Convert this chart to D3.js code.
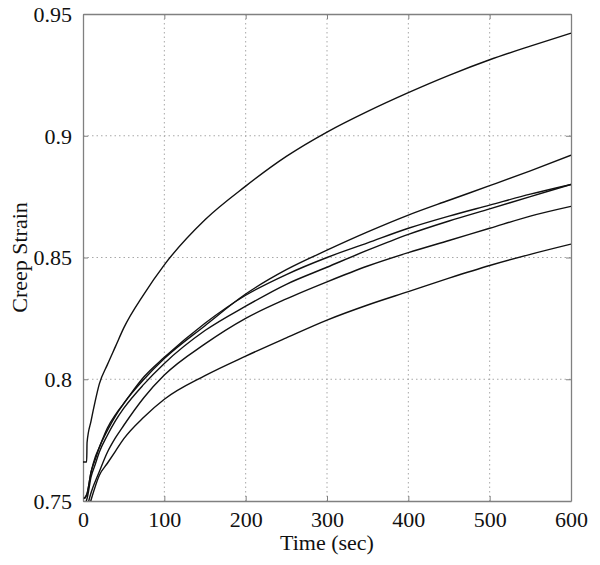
<!DOCTYPE html>
<html>
<head>
<meta charset="utf-8">
<script src="https://cdn.jsdelivr.net/npm/d3@7"></script>
<style>
  body { margin: 0; background: #fff; }
  text { font-family: "Liberation Serif", "Times New Roman", serif; fill: #111; }
</style>
</head>
<body>
<div id="chart"></div>
<script>
"use strict";

// Data: time (sec) and creep strain for each test
var xTicks = [0, 100, 200, 300, 400, 500, 600];
var yTicks = [0.75, 0.8, 0.85, 0.9, 0.95];

var timeTop = [0, 4.5, 5, 10, 15, 20, 30, 40, 50, 75, 100, 150, 200, 250, 300, 350, 400, 450, 500, 550, 600];
var strainTop = [0.766, 0.766, 0.774, 0.783, 0.791, 0.798, 0.806, 0.8135, 0.821, 0.835, 0.847, 0.8655, 0.8793, 0.8915, 0.9015, 0.910, 0.9177, 0.9248, 0.9312, 0.9368, 0.9421];

var timeA = [1, 5, 10, 15, 20, 30, 40, 50, 75, 100, 150, 200, 250, 300, 350, 400, 450, 500, 550, 600];
var strainA = [0.751, 0.753, 0.762, 0.767, 0.772, 0.779, 0.785, 0.790, 0.800, 0.8085, 0.822, 0.835, 0.845, 0.853, 0.8605, 0.8674, 0.8735, 0.8795, 0.8856, 0.892];

var timeB = [2, 5, 10, 15, 20, 30, 40, 50, 75, 100, 150, 200, 250, 300, 350, 400, 450, 500, 550, 600];
var strainB = [0.751, 0.753, 0.762, 0.768, 0.772, 0.780, 0.7855, 0.790, 0.801, 0.809, 0.823, 0.8345, 0.843, 0.850, 0.856, 0.862, 0.867, 0.8715, 0.876, 0.880];

var timeC = [4, 5, 10, 15, 20, 30, 40, 50, 75, 100, 150, 200, 250, 300, 350, 400, 450, 500, 550, 600];
var strainC = [0.750, 0.751, 0.760, 0.765, 0.770, 0.777, 0.783, 0.788, 0.798, 0.8065, 0.820, 0.830, 0.839, 0.846, 0.853, 0.8595, 0.865, 0.870, 0.875, 0.880];

var timeD = [7, 10, 20, 30, 40, 50, 75, 100, 150, 200, 250, 300, 350, 400, 450, 500, 550, 600];
var strainD = [0.750, 0.7535, 0.762, 0.770, 0.776, 0.781, 0.7925, 0.8017, 0.8145, 0.825, 0.833, 0.840, 0.8465, 0.852, 0.857, 0.862, 0.867, 0.871];

var timeE = [9.5, 20, 30, 40, 50, 75, 100, 150, 200, 250, 300, 350, 400, 450, 500, 550, 600];
var strainE = [0.750, 0.7605, 0.7655, 0.7705, 0.7755, 0.7845, 0.7918, 0.8015, 0.8095, 0.817, 0.8243, 0.8305, 0.836, 0.8415, 0.8467, 0.8513, 0.8555];

var series = [
  [timeTop, strainTop],
  [timeA, strainA],
  [timeB, strainB],
  [timeC, strainC],
  [timeD, strainD],
  [timeE, strainE]
];

var margin = { top: 14, right: 29, bottom: 64, left: 83 },
    width = 600 - margin.left - margin.right,
    height = 565 - margin.top - margin.bottom;

var svg = d3.select("#chart")
            .append("svg")
            .attr("width", 600)
            .attr("height", 565)
            .append("g")
            .attr("transform", "translate(" + margin.left + "," + margin.top + ")");

var xscale = d3.scaleLinear().domain([0, 600]).range([0, width]);
var yscale = d3.scaleLinear().domain([0.75, 0.95]).range([height, 0]);

svg.append("clipPath")
   .attr("id", "clip")
   .append("rect")
   .attr("width", width)
   .attr("height", height);

// dotted grid
svg.selectAll(".vgrid")
   .data(xTicks.slice(1, -1))
   .enter()
   .append("line")
   .attr("x1", function (d) { return xscale(d); })
   .attr("x2", function (d) { return xscale(d); })
   .attr("y1", 0)
   .attr("y2", height)
   .attr("stroke", "#a8a8a8")
   .attr("stroke-width", 1)
   .attr("stroke-dasharray", "1.5,3");

svg.selectAll(".hgrid")
   .data(yTicks.slice(1, -1))
   .enter()
   .append("line")
   .attr("y1", function (d) { return yscale(d); })
   .attr("y2", function (d) { return yscale(d); })
   .attr("x1", 0)
   .attr("x2", width)
   .attr("stroke", "#a8a8a8")
   .attr("stroke-width", 1)
   .attr("stroke-dasharray", "1.5,3");

// axes, ticks inward on all four sides
var axisColor = "#808080";
var fmt = function (d) { return d3.format("")(d); };

var axisBottomG = svg.append("g")
   .attr("transform", "translate(0," + height + ")")
   .call(d3.axisBottom(xscale).tickValues(xTicks).tickSize(-5).tickPadding(10).tickSizeOuter(0));
var axisTopG = svg.append("g")
   .call(d3.axisTop(xscale).tickValues(xTicks).tickSize(-5).tickFormat("").tickSizeOuter(0));
var axisLeftG = svg.append("g")
   .call(d3.axisLeft(yscale).tickValues(yTicks).tickSize(-5).tickPadding(11).tickFormat(fmt).tickSizeOuter(0));
var axisRightG = svg.append("g")
   .attr("transform", "translate(" + width + ",0)")
   .call(d3.axisRight(yscale).tickValues(yTicks).tickSize(-5).tickFormat("").tickSizeOuter(0));

[axisBottomG, axisTopG, axisLeftG, axisRightG].forEach(function (g) {
  g.selectAll("path").attr("stroke", axisColor).attr("stroke-width", 1.3);
  g.selectAll("line").attr("stroke", axisColor).attr("stroke-width", 1);
  g.selectAll("text")
   .attr("font-family", "Liberation Serif, Times New Roman, serif")
   .attr("font-size", 22)
   .attr("fill", "#111");
});
axisLeftG.selectAll("text").attr("dy", "0.34em");
axisBottomG.selectAll("text").attr("dy", "0.72em");

// curves
var line = d3.line()
             .x(function (d) { return xscale(d[0]); })
             .y(function (d) { return yscale(d[1]); })
             .curve(d3.curveMonotoneX);

svg.append("g")
   .attr("clip-path", "url(#clip)")
   .selectAll("path")
   .data(series)
   .enter()
   .append("path")
   .attr("d", function (s) {
     return line(s[0].map(function (t, i) { return [t, s[1][i]]; }));
   })
   .attr("fill", "none")
   .attr("stroke", "#111")
   .attr("stroke-width", 1.4);

// labels
svg.append("text")
   .attr("text-anchor", "middle")
   .attr("x", width / 2)
   .attr("y", height + 49)
   .attr("font-size", 22)
   .text("Time (sec)");

svg.append("text")
   .attr("text-anchor", "middle")
   .attr("transform", "translate(" + (27 - margin.left) + "," + (height / 2) + ") rotate(-90)")
   .attr("font-size", 22)
   .text("Creep Strain");
</script>
</body>
</html>
